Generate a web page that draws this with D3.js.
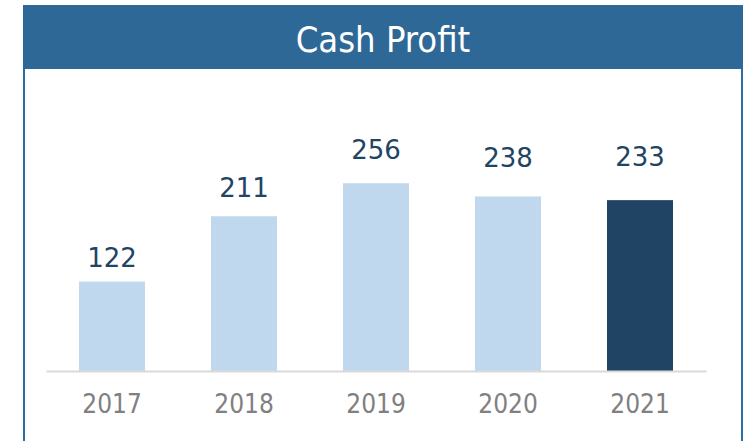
<!DOCTYPE html>
<html>
<head>
<meta charset="utf-8">
<script src="https://cdn.jsdelivr.net/npm/d3@7"></script>
<style>
  body { margin: 0; background: #fff; }
</style>
</head>
<body>
<svg width="755" height="441"></svg>
<script>
// Data
var years = ["2017", "2018", "2019", "2020", "2021"];
var cashProfit = [122, 211, 256, 238, 233];
var title = "Cash Profit";

var svg = d3.select("svg");

// Frame and header
svg.append("rect")
    .attr("x", 24).attr("y", 6)
    .attr("width", 718).attr("height", 445)
    .attr("fill", "none")
    .attr("stroke", "#2e6da4")
    .attr("stroke-width", 2)

svg.append("rect")
    .attr("x", 23).attr("y", 6)
    .attr("width", 720).attr("height", 63)
    .attr("fill", "#2e6897")

svg.append("text")
    .attr("x", 383).attr("y", 52)
    .attr("text-anchor", "middle")
    .attr("fill", "#fff")
    .style("font-family", "'DejaVu Sans Condensed', 'DejaVu Sans'")
    .style("font-size", "36px")
    .text(title)

// Scales
var x = d3.scaleBand()
    .domain(years)
    .range([46, 706])
    .paddingInner(0.5)
    .paddingOuter(0.25)

var y = d3.scaleLinear()
    .domain([0, 300])
    .range([371, 151])

// Bars
svg.append("g")
  .selectAll("rect")
  .data(years)
  .enter()
  .append("rect")
    .attr("x", function(d){ return x(d) })
    .attr("y", function(d, i){ return y(cashProfit[i]) })
    .attr("width", x.bandwidth())
    .attr("height", function(d, i){ return y(0) - y(cashProfit[i]) })
    .attr("fill", function(d, i){ return i == years.length - 1 ? "#1f4464" : "#c0d8ee" })

// Value labels (gap above the bar widens a little left to right, as in the source)
svg.append("g")
  .selectAll("text")
  .data(years)
  .enter()
  .append("text")
    .attr("x", function(d){ return x(d) + x.bandwidth()/2 })
    .attr("y", function(d, i){ return y(cashProfit[i]) - 15 - 4.75*i })
    .attr("text-anchor", "middle")
    .attr("fill", "#1f4464")
    .style("font-family", "'DejaVu Sans'")
    .style("font-size", "26px")
    .text(function(d, i){ return cashProfit[i] })

// X axis
var xAxis = svg.append("g")
    .attr("transform", "translate(0,371)")
    .call(d3.axisBottom(x).tickSize(0).tickPadding(24))

xAxis.select(".domain")
    .attr("stroke", "#d9d9d9")
    .attr("stroke-width", 2)

xAxis.selectAll("text")
    .attr("fill", "#808080")
    .style("font-family", "'DejaVu Sans Condensed', 'DejaVu Sans'")
    .style("font-size", "26px")
</script>
</body>
</html>
